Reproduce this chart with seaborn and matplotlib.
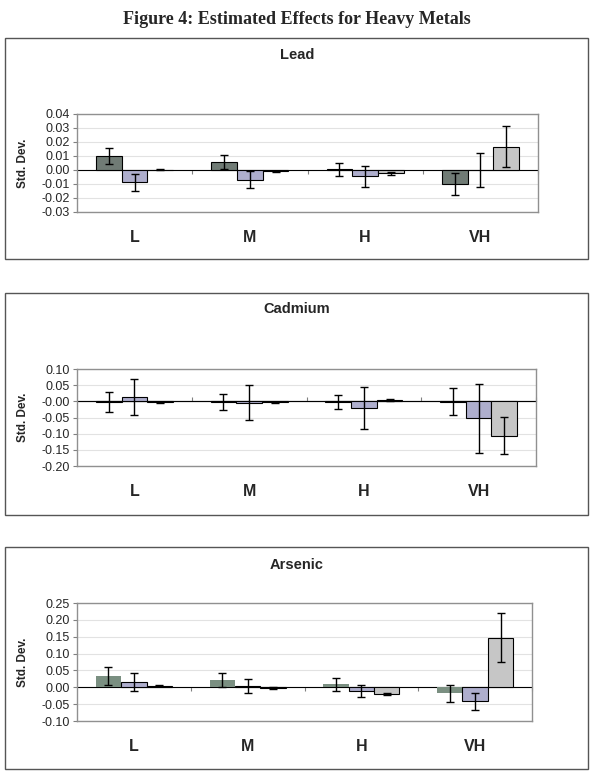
import numpy as np
import pandas as pd
import matplotlib
matplotlib.use("Agg")
import matplotlib.pyplot as plt
from matplotlib.patches import Rectangle
import seaborn as sns

sns.set_style("white")
plt.rcParams['font.family'] = ['Liberation Sans', 'DejaVu Sans']

categories = ['L', 'M', 'H', 'VH']
series = ['s1', 's2', 's3']

# Lead
lead_vals = [[0.0100, 0.0057, 0.0005, -0.0102],
             [-0.0087, -0.0068, -0.0045, 0.0001],
             [0.0003, -0.0010, -0.0023, 0.0167]]
lead_err = [[0.0060, 0.0050, 0.0047, 0.0080],
            [0.0062, 0.0060, 0.0074, 0.0123],
            [0.0002, 0.0004, 0.0010, 0.0147]]

# Cadmium
cad_vals = [[-0.002, -0.002, -0.002, -0.001],
            [0.013, -0.004, -0.020, -0.053],
            [-0.003, -0.003, 0.004, -0.106]]
cad_err = [[0.032, 0.026, 0.022, 0.041],
           [0.056, 0.054, 0.065, 0.108],
           [0.001, 0.001, 0.003, 0.058]]

# Arsenic
ars_vals = [[0.034, 0.022, 0.009, -0.018],
            [0.016, 0.004, -0.010, -0.042],
            [0.005, -0.002, -0.021, 0.147]]
ars_err = [[0.026, 0.020, 0.019, 0.026],
           [0.026, 0.021, 0.018, 0.025],
           [0.002, 0.003, 0.003, 0.072]]

panels = [
    ('Lead', lead_vals, lead_err, (-0.03, 0.04), np.arange(-0.03, 0.041, 0.01)),
    ('Cadmium', cad_vals, cad_err, (-0.20, 0.10), np.arange(-0.20, 0.101, 0.05)),
    ('Arsenic', ars_vals, ars_err, (-0.10, 0.25), np.arange(-0.10, 0.251, 0.05)),
]

colors = ['#6e7d75', '#a9a9d2', '#c6c6c6']

W, H = 594, 773
fig = plt.figure(figsize=(W / 100, H / 100), dpi=100)

def fx(px):
    return px / W

def fy(px):
    return 1 - px / H

# pixel layout: axes (left, right, top, bottom), box (top, bottom), title y
axes_px = [(77, 538, 114, 212), (77, 536, 369, 466), (77, 532, 603, 721)]
box_px = [(38, 259), (293, 515), (547, 769)]
title_y = [55, 309, 565]

fig.text(0.5, fy(20), 'Figure 4: Estimated Effects for Heavy Metals',
         ha='center', va='center', fontsize=13, fontweight='bold',
         family=['Liberation Serif', 'DejaVu Serif'])

for i, (name, vals, errs, ylim, ticks) in enumerate(panels):
    l, r, t, b = axes_px[i]
    ax = fig.add_axes([fx(l), fy(b), fx(r - l), (b - t) / H])

    df = pd.DataFrame({
        'cat': np.repeat([categories], 3, axis=0).ravel(),
        'series': np.repeat(series, 4),
        'value': np.ravel(vals),
        'err': np.ravel(errs),
    })

    sns.barplot(data=df, x='cat', y='value', hue='series', order=categories,
                hue_order=series, palette=colors, width=0.67, gap=0,
                errorbar=None, edgecolor='black', linewidth=0.8,
                legend=False, ax=ax, zorder=3)

    bars = list(ax.containers)
    for k, cont in enumerate(bars):
        xs = [p.get_x() + p.get_width() / 2 for p in cont.patches]
        e = df[df['series'] == series[k]]
        ax.errorbar(xs, e['value'].values, yerr=e['err'].values, fmt='none',
                    ecolor='black', elinewidth=1, capsize=3, capthick=1,
                    zorder=4)
        if name == 'Arsenic' and k == 0:
            for p in cont.patches:
                p.set_edgecolor('none')
                p.set_facecolor('#7a8f81')

    ax.set_xlim(-0.5, 3.5)
    ax.set_ylim(*ylim)
    ax.set_yticks(ticks)
    ax.set_yticklabels([f'{v:.2f}' for v in ticks], fontsize=9)
    ax.yaxis.grid(True, color='#e2e2e2', linewidth=0.8)
    ax.set_axisbelow(True)
    ax.axhline(0, color='black', linewidth=0.8, zorder=2)
    ax.tick_params(axis='y', direction='out', length=3, width=0.8,
                   color='#808080', pad=2, left=True)
    ax.tick_params(axis='x', length=0, pad=13)
    ax.set_xticks(range(4))
    ax.set_xticklabels(categories, fontsize=11.5, fontweight='bold')
    ax.set_xlabel('')
    ax.set_ylabel('Std. Dev.', fontsize=8.5, fontweight='bold')
    ax.yaxis.set_label_coords(-0.105, 0.5)
    for s in ax.spines.values():
        s.set_color('#909090')
        s.set_linewidth(1)

    # category boundary ticks on the zero line
    frac = -ylim[0] / (ylim[1] - ylim[0])
    sec = ax.secondary_xaxis(frac)
    sec.set_xticks([0.5, 1.5, 2.5, 3.5])
    sec.set_xticklabels([])
    sec.tick_params(direction='out', length=3, width=0.8, color='#808080')
    sec.spines['bottom'].set_visible(False)

    fig.text(0.5, fy(title_y[i]), name, ha='center', va='center',
             fontsize=10.5, fontweight='bold')

    bt, bb = box_px[i]
    fig.add_artist(Rectangle((fx(5), fy(bb)), fx(583), (bb - bt) / H,
                             transform=fig.transFigure, fill=False,
                             edgecolor='#555555', linewidth=1))

fig.savefig('out.png', dpi=100)
